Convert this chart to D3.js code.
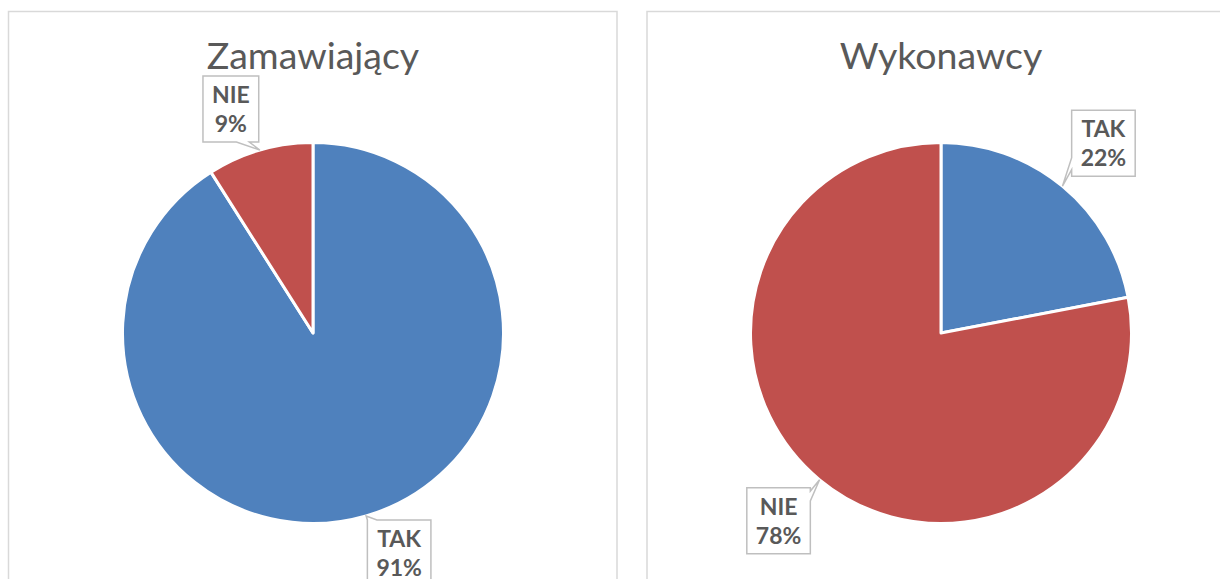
<!DOCTYPE html>
<html>
<head>
<meta charset="utf-8">
<script src="https://cdn.jsdelivr.net/npm/d3@7"></script>
<style>
  body { margin: 0; background: #fff; }
  svg { display: block; }
</style>
</head>
<body>
<script>
// chart data
var titles = ["Zamawiający", "Wykonawcy"];
var categories = ["TAK", "NIE"];
var zamawiajacy = [91, 9];
var wykonawcy = [22, 78];

var colors = ["#4F81BD", "#C0504D"];
var width = 1220, height = 579;

var svg = d3.select("body").append("svg")
  .attr("width", width)
  .attr("height", height);

// panels: frame, centre of pie, label placement
var panels = [
  { title: titles[0], values: zamawiajacy, x0: 8.5, x1: 617, cx: 313,
    labels: [
      { dx: 33, dy: 37, side: "top", a: 0.0, b: 0.15 },
      { dx: -29, dy: -41, side: "bottom", a: 0.6, b: 0.83 }
    ] },
  { title: titles[1], values: wykonawcy, x0: 647, x1: 1240, cx: 941,
    labels: [
      { dx: 41, dy: -43, side: "left", a: 0.72, b: 0.9 },
      { dx: -41, dy: 41, side: "right", a: 0.05, b: 0.2 }
    ] }
];

var radius = 190.5, cy = 333;

var pie = d3.pie().sort(null).value(function(d) { return d; });
var arc = d3.arc().innerRadius(0).outerRadius(radius);

/*
* Path of a box with a small pointer going out to the tip.
*/
function calloutPath(x0, y0, x1, y1, tip, side, a, b) {
  var p = [];
  var w = x1 - x0, h = y1 - y0;
  p.push([x0, y0]);
  if (side == "top") { p.push([x0 + a * w, y0], tip, [x0 + b * w, y0]); }
  p.push([x1, y0]);
  if (side == "right") { p.push([x1, y0 + a * h], tip, [x1, y0 + b * h]); }
  p.push([x1, y1]);
  if (side == "bottom") { p.push([x0 + b * w, y1], tip, [x0 + a * w, y1]); }
  p.push([x0, y1]);
  if (side == "left") { p.push([x0, y0 + b * h], tip, [x0, y0 + a * h]); }
  return "M" + p.map(function(q) { return q[0] + "," + q[1]; }).join("L") + "Z";
}

panels.forEach(function(panel) {
  // frame of the panel
  svg.append("rect")
    .attr("x", panel.x0)
    .attr("y", 11.5)
    .attr("width", panel.x1 - panel.x0)
    .attr("height", 600)
    .attr("fill", "none")
    .attr("stroke", "#d9d9d9")
    .attr("stroke-width", 1.5);

  // title
  svg.append("text")
    .attr("x", panel.cx)
    .attr("y", 69)
    .attr("text-anchor", "middle")
    .style("font-family", "Lato, 'Open Sans', sans-serif")
    .style("font-size", "37.5px")
    .style("fill", "#595959")
    .text(panel.title);

  var g = svg.append("g")
    .attr("transform", "translate(" + panel.cx + "," + cy + ")");

  var slices = pie(panel.values);

  g.selectAll("path.slice")
    .data(slices)
    .enter()
    .append("path")
    .attr("class", "slice")
    .attr("d", arc)
    .attr("fill", function(d, i) { return colors[i]; })
    .attr("stroke", "#fff")
    .attr("stroke-width", 3)
    .attr("stroke-linejoin", "round");

  // data labels with callout boxes
  slices.forEach(function(d, i) {
    var lab = panel.labels[i];
    var mid = (d.startAngle + d.endAngle) / 2;
    var tip = [radius * Math.sin(mid), -radius * Math.cos(mid)];
    var bx = tip[0] + lab.dx, by = tip[1] + lab.dy;

    var lg = g.append("g");
    var path = lg.append("path")
      .attr("fill", "#fff")
      .attr("stroke", "#bfbfbf")
      .attr("stroke-width", 1.5);

    var txt = lg.append("text")
      .attr("text-anchor", "middle")
      .style("font-family", "Lato, 'Open Sans', sans-serif")
      .style("font-size", "23px")
      .style("font-weight", "bold")
      .style("fill", "#595959");
    txt.append("tspan").attr("x", bx).attr("y", by - 6).text(categories[i]);
    txt.append("tspan").attr("x", bx).attr("y", by + 23).text(d.data + "%");

    var bb = txt.node().getBBox();
    var x0 = bx - bb.width / 2 - 9, x1 = bx + bb.width / 2 + 9;
    var y0 = by - 33, y1 = by + 33;
    path.attr("d", calloutPath(x0, y0, x1, y1, tip, lab.side, lab.a, lab.b));
  });
});
</script>
</body>
</html>
